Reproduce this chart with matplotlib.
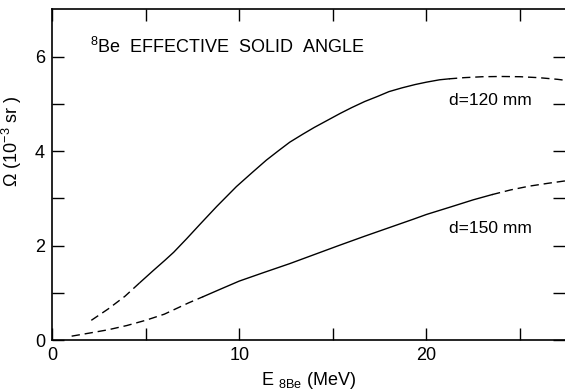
import matplotlib
matplotlib.use("Agg")
import matplotlib.pyplot as plt

plt.rcParams['font.family'] = ['Liberation Sans', 'DejaVu Sans']
plt.rcParams['mathtext.fontset'] = 'custom'
plt.rcParams['mathtext.rm'] = 'Liberation Sans'
plt.rcParams['mathtext.it'] = 'Liberation Sans'

# d = 120 mm curve (energy in MeV, solid angle in 1e-3 sr)
e_120 = [2.1, 3.0, 3.9, 4.7, 5.4, 6.03, 6.5, 7.2, 7.9, 8.8, 9.85, 10.7, 11.45, 12.1, 12.7,
         13.4, 14.0, 14.7, 15.4, 16.0, 16.7, 17.4, 18.0, 18.7, 19.4, 20.0, 20.7, 21.2,
         22.0, 23.0, 24.0, 25.0, 26.0, 27.0, 27.4]
om_120 = [0.42, 0.66, 0.93, 1.22, 1.47, 1.69, 1.86, 2.15, 2.45, 2.83, 3.25, 3.55, 3.81, 4.01, 4.19,
          4.36, 4.50, 4.65, 4.80, 4.92, 5.05, 5.16, 5.26, 5.34, 5.41, 5.46, 5.51, 5.53,
          5.555, 5.575, 5.58, 5.575, 5.555, 5.52, 5.50]
solid_120 = (3, 27)   # index range drawn solid, rest dashed

# d = 150 mm curve
e_150 = [1.05, 2.0, 3.0, 4.0, 5.0, 6.0, 6.65, 7.3, 8.07, 9.0, 10.0, 11.3, 12.7, 14.0, 15.3,
         16.7, 18.0, 19.3, 20.0, 21.3, 22.5, 23.5, 24.5, 25.5, 26.5, 27.4]
om_150 = [0.085, 0.15, 0.22, 0.31, 0.42, 0.55, 0.67, 0.79, 0.92, 1.08, 1.25, 1.43, 1.62, 1.81, 2.0,
          2.2, 2.38, 2.56, 2.66, 2.82, 2.97, 3.08, 3.18, 3.26, 3.32, 3.37]
solid_150 = (8, 21)

xticks = [0, 5, 10, 15, 20, 25]
xlabels = ['0', '', '10', '', '20', '']
yticks = [0, 1, 2, 3, 4, 5, 6]
ylabels = ['0', '', '2', '', '4', '', '6']

fig = plt.figure(figsize=(5.65, 3.91), dpi=100)
ax = fig.add_axes([0.092, 0.130, 0.908, 0.846])

dash = (6, 3.5)
for e, om, (a, b) in [(e_120, om_120, solid_120), (e_150, om_150, solid_150)]:
    ax.plot(e[:a + 1], om[:a + 1], color='black', lw=1.0, dashes=dash)
    ax.plot(e[a:b + 1], om[a:b + 1], color='black', lw=1.0)
    ax.plot(e[b:], om[b:], color='black', lw=1.0, dashes=dash)

ax.set_xlim(0, 27.4)
ax.set_ylim(0, 7)
ax.set_xticks(xticks)
ax.set_xticklabels(xlabels)
ax.set_yticks(yticks)
ax.set_yticklabels(ylabels)
ax.tick_params(direction='in', length=8.5, width=1.0, labelsize=13,
               top=True, right=True, pad=5)
ax.spines['right'].set_visible(False)
for s in ['left', 'top', 'bottom']:
    ax.spines[s].set_linewidth(1.2)

ax.text(0.074, 0.885, r'$^{8}$Be  EFFECTIVE  SOLID  ANGLE', transform=ax.transAxes,
        fontsize=13, va='center', ha='left')
ax.text(21.2, 5.08, 'd=120 mm', fontsize=12.5, va='center', ha='left')
ax.text(21.2, 2.37, 'd=150 mm', fontsize=12.5, va='center', ha='left')

ax.set_xlabel(r'E $_{8\mathrm{Be}}$ (MeV)', fontsize=13, labelpad=4)
ax.set_ylabel(r'$\Omega$ (10$^{-3}$ sr )', fontsize=13)
ax.yaxis.set_label_coords(-0.055, 0.60)

fig.savefig('out.png', dpi=100)
